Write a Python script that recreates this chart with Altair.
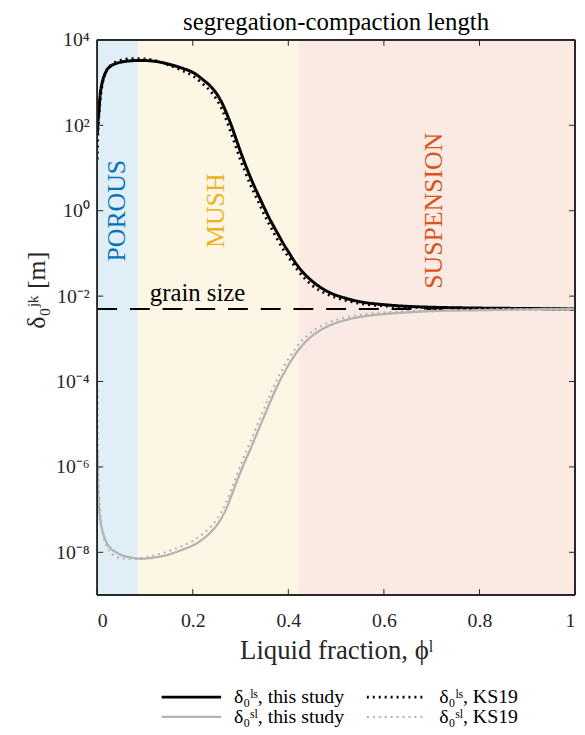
import altair as alt
import pandas as pd

W, H = 482, 560
SERIF = "Liberation Serif"
AX = "#262626"

# ---- data (y stored as log10 of metres) ----
x_grid = [0.0003, 0.001, 0.003, 0.006, 0.01, 0.015, 0.02, 0.03, 0.04, 0.05,
          0.07, 0.09, 0.12, 0.15, 0.18, 0.20, 0.22, 0.24, 0.25, 0.26,
          0.27, 0.28, 0.29, 0.30, 0.31, 0.32, 0.33, 0.34, 0.35, 0.36,
          0.37, 0.38, 0.39, 0.40, 0.42, 0.45, 0.48, 0.52, 0.56, 0.60,
          0.65, 0.70, 0.80, 0.90, 1.00]
ls_this_log10 = [1.80, 2.00, 2.25, 2.70, 2.98, 3.17, 3.29, 3.40, 3.45, 3.48,
                 3.51, 3.52, 3.50, 3.43, 3.33, 3.24, 3.08, 2.88, 2.74, 2.55,
                 2.30, 2.02, 1.70, 1.38, 1.08, 0.80, 0.54, 0.30, 0.06, -0.17,
                 -0.38, -0.58, -0.78, -0.96, -1.30, -1.65, -1.88, -2.05, -2.15, -2.20,
                 -2.24, -2.26, -2.28, -2.29, -2.30]
ls_ks19_log10 = [1.20, 1.60, 2.10, 2.55, 2.90, 3.15, 3.30, 3.42, 3.49, 3.53,
                 3.56, 3.56, 3.52, 3.41, 3.27, 3.16, 2.98, 2.76, 2.60, 2.40,
                 2.13, 1.82, 1.50, 1.18, 0.90, 0.62, 0.38, 0.14, -0.10, -0.32,
                 -0.53, -0.73, -0.92, -1.08, -1.40, -1.75, -1.95, -2.10, -2.19, -2.23,
                 -2.26, -2.27, -2.29, -2.30, -2.30]
sl_this_log10 = [-5.60, -6.30, -6.85, -7.20, -7.45, -7.65, -7.78, -7.93, -8.00, -8.06,
                 -8.12, -8.15, -8.12, -8.05, -7.93, -7.84, -7.70, -7.50, -7.37, -7.20,
                 -6.98, -6.70, -6.40, -6.12, -5.85, -5.60, -5.33, -5.06, -4.80, -4.53,
                 -4.27, -4.03, -3.82, -3.62, -3.28, -2.93, -2.72, -2.56, -2.47, -2.42,
                 -2.38, -2.35, -2.33, -2.31, -2.30]
sl_ks19_log10 = [-4.20, -5.10, -6.30, -7.00, -7.45, -7.72, -7.87, -8.03, -8.10, -8.14,
                 -8.16, -8.14, -8.07, -7.97, -7.84, -7.73, -7.58, -7.37, -7.23, -7.05,
                 -6.82, -6.54, -6.25, -5.96, -5.68, -5.42, -5.15, -4.88, -4.62, -4.36,
                 -4.10, -3.87, -3.66, -3.47, -3.15, -2.83, -2.64, -2.50, -2.42, -2.38,
                 -2.35, -2.33, -2.31, -2.30, -2.30]

series_names = ["δ₀ˡˢ, this study", "δ₀ˡˢ, KS19", "δ₀ˢˡ, this study", "δ₀ˢˡ, KS19"]
series_colors = ["#000000", "#000000", "#b3b3b3", "#b3b3b3"]
series_dash = [[1, 0], [2, 4], [1, 0], [2, 4]]
series_widths = [3, 2, 3, 2]

region_names = ["POROUS", "MUSH", "SUSPENSION"]
region_start = [0.0, 0.085, 0.421]
region_end = [0.085, 0.421, 1.0]
region_fill = ["#e0eef7", "#fdf6e4", "#faeae3"]
region_text_color = ["#0072BD", "#EDB120", "#D95319"]
region_label_x = [0.041, 0.249, 0.705]
region_label_y = [1.0, 1.0, 1.0]

grain_size = [5e-3]
grain_label_x = [0.21]
grain_label_y = [7.6e-3]

x_tick_values = [0, 0.2, 0.4, 0.6, 0.8, 1.0]
x_tick_labels = ["0", "0.2", "0.4", "0.6", "0.8", "1"]
y_tick_exps = [4, 2, 0, -2, -4, -6, -8]
y_tick_labels = ["10⁴", "10²", "10⁰", "10⁻²", "10⁻⁴", "10⁻⁶", "10⁻⁸"]
y_tick_values = [10.0 ** e for e in y_tick_exps]

title_text = "segregation-compaction length"
x_title = "Liquid fraction, ϕˡ"
y_title = "δ₀ʲᵏ [m]"

# ---- tables ----
rows = []
for name, vals in zip(series_names, [ls_this_log10, ls_ks19_log10, sl_this_log10, sl_ks19_log10]):
    for xv, lv in zip(x_grid, vals):
        rows.append({"x": xv, "y": 10.0 ** lv, "series": name})
lines_df = pd.DataFrame(rows)

regions_df = pd.DataFrame({"region": region_names, "start": region_start, "end": region_end})

xscale = alt.Scale(domain=[0, 1], nice=False, zero=False)
yscale = alt.Scale(type="log", domain=[1e-9, 1e4], nice=False)

x_label_expr = "".join(f"abs(datum.value - {v}) < 1e-6 ? '{l}' : " for v, l in zip(x_tick_values, x_tick_labels)) + "''"
y_label_expr = "".join(f"round(log(datum.value)/LN10) == {e} ? '{l}' : " for e, l in zip(y_tick_exps, y_tick_labels)) + "''"

x_axis = alt.Axis(
    title=x_title, values=x_tick_values, labelExpr=x_label_expr,
    ticks=False, domain=False, grid=False, labelPadding=16, titlePadding=7,
    labelFont=SERIF, labelFontSize=20, labelColor=AX,
    titleFont=SERIF, titleFontSize=27, titleFontWeight="normal", titleColor=AX,
)
y_axis = alt.Axis(
    title=y_title, values=y_tick_values, labelExpr=y_label_expr,
    ticks=False, domain=False, grid=False, labelPadding=8, titlePadding=6,
    titleY=252,
    labelFont=SERIF, labelFontSize=20, labelColor=AX,
    titleFont=SERIF, titleFontSize=26, titleFontWeight="normal", titleColor=AX,
)

def X(field):
    return alt.X(field, scale=xscale, axis=x_axis)

def Y(field):
    return alt.Y(field, scale=yscale, axis=y_axis)

rects = alt.Chart(regions_df).mark_rect().encode(
    x=X("start:Q"),
    x2="end:Q",
    y=alt.value(0),
    y2=alt.value(H),
    fill=alt.Fill("region:N", scale=alt.Scale(domain=region_names, range=region_fill), legend=None),
)

layers = [rects]

for name, cx, cy, col in zip(region_names, region_label_x, region_label_y, region_text_color):
    layers.append(
        alt.Chart(pd.DataFrame({"x": [cx], "y": [cy], "t": [name]})).mark_text(
            angle=270, align="center", baseline="middle", font=SERIF, fontSize=26, color=col
        ).encode(x=X("x:Q"), y=Y("y:Q"), text="t:N")
    )

grain_text = alt.Chart(pd.DataFrame({"x": grain_label_x, "y": grain_label_y, "t": ["grain size"]})).mark_text(
    align="center", baseline="alphabetic", font=SERIF, fontSize=25, color="black"
).encode(x=X("x:Q"), y=Y("y:Q"), text="t:N")
layers.append(grain_text)

grain_line = alt.Chart(pd.DataFrame({"g": grain_size})).mark_rule(
    strokeDash=[20, 13], strokeWidth=2, color="black"
).encode(y=Y("g:Q"))
layers.append(grain_line)

lines = alt.Chart(lines_df).mark_line(interpolate="monotone", clip=True).encode(
    x=X("x:Q"),
    y=Y("y:Q"),
    color=alt.Color("series:N", scale=alt.Scale(domain=series_names, range=series_colors),
                    legend=alt.Legend(title=None, orient="none", legendX=60, legendY=653,
                                      direction="horizontal", columns=2,
                                      symbolType="M-6,0H6", symbolSize=100,
                                      symbolOffset=25, labelOffset=33,
                                      labelFont=SERIF, labelFontSize=20, labelColor="black",
                                      columnPadding=16, rowPadding=-2, labelLimit=400)),
    strokeDash=alt.StrokeDash("series:N", scale=alt.Scale(domain=series_names, range=series_dash)),
    strokeWidth=alt.StrokeWidth("series:N", scale=alt.Scale(domain=series_names, range=series_widths)),
    detail="series:N",
)
layers.append(lines)

# inside ticks (box style)
xt = pd.DataFrame({"v": x_tick_values})
yt = pd.DataFrame({"v": y_tick_values})
tick_style = dict(color=AX, strokeWidth=1)
layers.append(alt.Chart(xt).mark_rule(**tick_style).encode(x=X("v:Q"), y=alt.value(H), y2=alt.value(H - 6)))
layers.append(alt.Chart(xt).mark_rule(**tick_style).encode(x=X("v:Q"), y=alt.value(0), y2=alt.value(6)))
layers.append(alt.Chart(yt).mark_rule(**tick_style).encode(y=Y("v:Q"), x=alt.value(0), x2=alt.value(6)))
layers.append(alt.Chart(yt).mark_rule(**tick_style).encode(y=Y("v:Q"), x=alt.value(W), x2=alt.value(W - 6)))

# frame
frame = dict(color=AX, strokeWidth=1)
layers.append(alt.Chart(xt).mark_rule(**frame).encode(x=alt.value(0), x2=alt.value(W), y=alt.value(0)))
layers.append(alt.Chart(xt).mark_rule(**frame).encode(x=alt.value(0), x2=alt.value(W), y=alt.value(H)))
layers.append(alt.Chart(xt).mark_rule(**frame).encode(x=alt.value(0), y=alt.value(0), y2=alt.value(H)))
layers.append(alt.Chart(xt).mark_rule(**frame).encode(x=alt.value(W), y=alt.value(0), y2=alt.value(H)))

# chart title, set as a text mark just above the frame
title_mark = alt.Chart(pd.DataFrame({"t": [title_text]})).mark_text(
    align="center", baseline="alphabetic", font=SERIF, fontSize=25, color="black"
).encode(x=alt.value(W / 2), y=alt.value(-10), text="t:N")
layers.append(title_mark)

chart = alt.layer(*layers).properties(
    width=W, height=H,
    padding={"left": 90, "top": 29, "right": 2, "bottom": 136},
    autosize=alt.AutoSizeParams(type="none"),
).configure_view(stroke=None)

chart.save("out.html", embed_options={"renderer": "svg", "actions": False})
